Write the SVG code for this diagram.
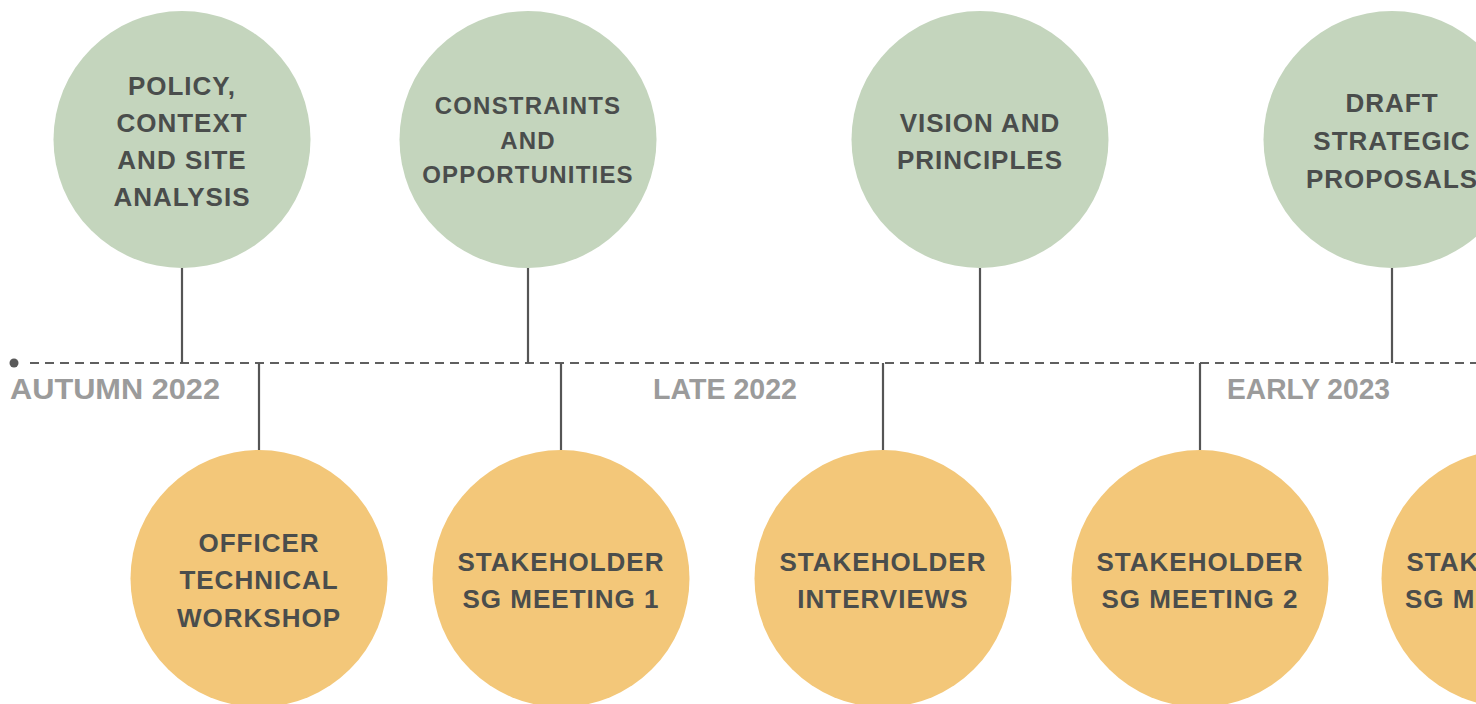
<svg xmlns="http://www.w3.org/2000/svg" width="1476" height="704" viewBox="0 0 1476 704">
<style>
.g{fill:#c4d5bd}
.o{fill:#f3c779}
.t{font-family:"Liberation Sans",Arial,sans-serif;font-weight:bold;fill:#4a4d4c;text-anchor:middle;font-size:26px;letter-spacing:1px}
.s{font-size:24px;letter-spacing:1.2px}
.lbl{font-family:"Liberation Sans",Arial,sans-serif;font-weight:bold;fill:#9b9b9b;font-size:29px}
.stem{stroke:#555555;stroke-width:2.2;fill:none}
.axis{stroke:#5f5f5f;stroke-width:2;stroke-dasharray:9 6;fill:none}
</style>
<rect width="1476" height="704" fill="#ffffff"/>
<g id="connectors">
<line class="axis" x1="30" y1="363" x2="1476" y2="363"/>
<circle cx="14" cy="363" r="4.5" fill="#5a5a5a"/>
<line class="stem" x1="182" y1="266" x2="182" y2="363"/>
<line class="stem" x1="528" y1="266" x2="528" y2="363"/>
<line class="stem" x1="980" y1="266" x2="980" y2="363"/>
<line class="stem" x1="1392" y1="266" x2="1392" y2="363"/>
<line class="stem" x1="259" y1="363" x2="259" y2="452"/>
<line class="stem" x1="561" y1="363" x2="561" y2="452"/>
<line class="stem" x1="883" y1="363" x2="883" y2="452"/>
<line class="stem" x1="1200" y1="363" x2="1200" y2="452"/>
</g>
<g id="labels">
<text class="lbl" x="10" y="399" textLength="210" lengthAdjust="spacingAndGlyphs">AUTUMN 2022</text>
<text class="lbl" x="653" y="399" textLength="144" lengthAdjust="spacingAndGlyphs">LATE 2022</text>
<text class="lbl" x="1227" y="399" textLength="163" lengthAdjust="spacingAndGlyphs">EARLY 2023</text>
</g>
<g id="n1">
<circle class="g" cx="182" cy="139.5" r="128.5"/>
<text class="t" x="182" y="95">POLICY,</text>
<text class="t" x="182" y="132">CONTEXT</text>
<text class="t" x="182" y="169">AND SITE</text>
<text class="t" x="182" y="206">ANALYSIS</text>
</g>
<g id="n2">
<circle class="g" cx="528" cy="139.5" r="128.5"/>
<text class="t s" x="528" y="114">CONSTRAINTS</text>
<text class="t s" x="528" y="148.5">AND</text>
<text class="t s" x="528" y="183">OPPORTUNITIES</text>
</g>
<g id="n3">
<circle class="g" cx="980" cy="139.5" r="128.5"/>
<text class="t" x="980" y="132">VISION AND</text>
<text class="t" x="980" y="169">PRINCIPLES</text>
</g>
<g id="n4">
<circle class="g" cx="1392" cy="139.5" r="128.5"/>
<text class="t" x="1392" y="112">DRAFT</text>
<text class="t" x="1392" y="150">STRATEGIC</text>
<text class="t" x="1392" y="188">PROPOSALS</text>
</g>
<g id="n5">
<circle class="o" cx="259" cy="578.5" r="128.5"/>
<text class="t" x="259" y="552">OFFICER</text>
<text class="t" x="259" y="589">TECHNICAL</text>
<text class="t" x="259" y="627">WORKSHOP</text>
</g>
<g id="n6">
<circle class="o" cx="561" cy="578.5" r="128.5"/>
<text class="t" x="561" y="571">STAKEHOLDER</text>
<text class="t" x="561" y="608">SG MEETING 1</text>
</g>
<g id="n7">
<circle class="o" cx="883" cy="578.5" r="128.5"/>
<text class="t" x="883" y="571">STAKEHOLDER</text>
<text class="t" x="883" y="608">INTERVIEWS</text>
</g>
<g id="n8">
<circle class="o" cx="1200" cy="578.5" r="128.5"/>
<text class="t" x="1200" y="571">STAKEHOLDER</text>
<text class="t" x="1200" y="608">SG MEETING 2</text>
</g>
<g id="n9">
<circle class="o" cx="1510" cy="578.5" r="128.5"/>
<text class="t" x="1510" y="571">STAKEHOLDER</text>
<text class="t" x="1405" y="608" style="text-anchor:start">SG MEETING 3</text>
</g>
</svg>
